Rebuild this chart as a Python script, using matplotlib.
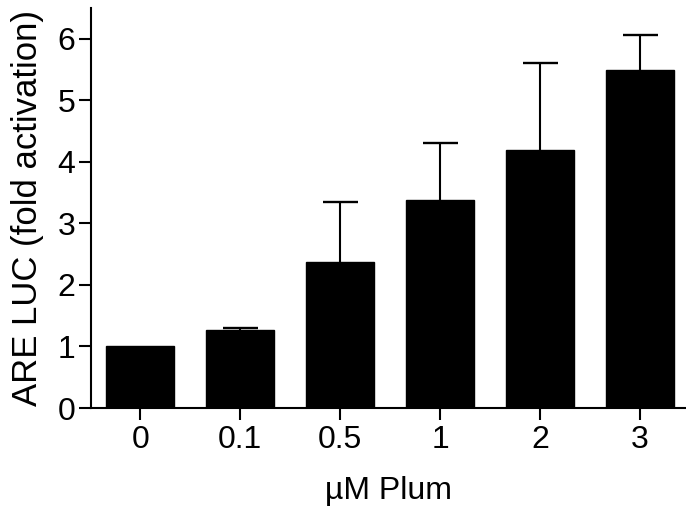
import numpy as np
import matplotlib.pyplot as plt

plt.rcParams['font.family'] = ['Liberation Sans', 'DejaVu Sans']

# 数据
doses = ['0', '0.1', '0.5', '1', '2', '3']
fold = [1.0, 1.27, 2.38, 3.38, 4.20, 5.50]
sem = [0.0, 0.025, 0.97, 0.92, 1.41, 0.56]

fig = plt.figure(figsize=(6.86, 5.11), dpi=100)
ax = fig.add_axes([90.5 / 686, (511 - 408) / 511, (686 - 90.5) / 686, (408 - 8) / 511])

x = np.arange(len(doses))
fold = np.array(fold)
sem = np.array(sem)
ax.bar(x, fold, width=0.68, color='black', edgecolor='black', zorder=2)

# 只画向上的误差线
has_err = sem > 0
ax.vlines(x[has_err], fold[has_err], fold[has_err] + sem[has_err], color='black', linewidth=1.5, zorder=1)
ax.hlines(fold[has_err] + sem[has_err], x[has_err] - 0.175, x[has_err] + 0.175,
          color='black', linewidth=1.7, zorder=3)

ax.set_xlim(-0.5, 5.46)
ax.set_ylim(0, 6.5)
ax.set_xticks(x)
ax.set_xticklabels(doses)
ax.set_yticks(range(7))

for s in ['top', 'right']:
    ax.spines[s].set_visible(False)
for s in ['left', 'bottom']:
    ax.spines[s].set_linewidth(1.5)

ax.tick_params(axis='both', labelsize=23, width=1.5, length=8.3, pad=2.5)
ax.tick_params(axis='x', pad=4)
ax.set_xlabel('µM Plum', fontsize=23, labelpad=15)
ax.set_ylabel('ARE LUC (fold activation)', fontsize=25, labelpad=10)

plt.savefig('out.png', dpi=100)
